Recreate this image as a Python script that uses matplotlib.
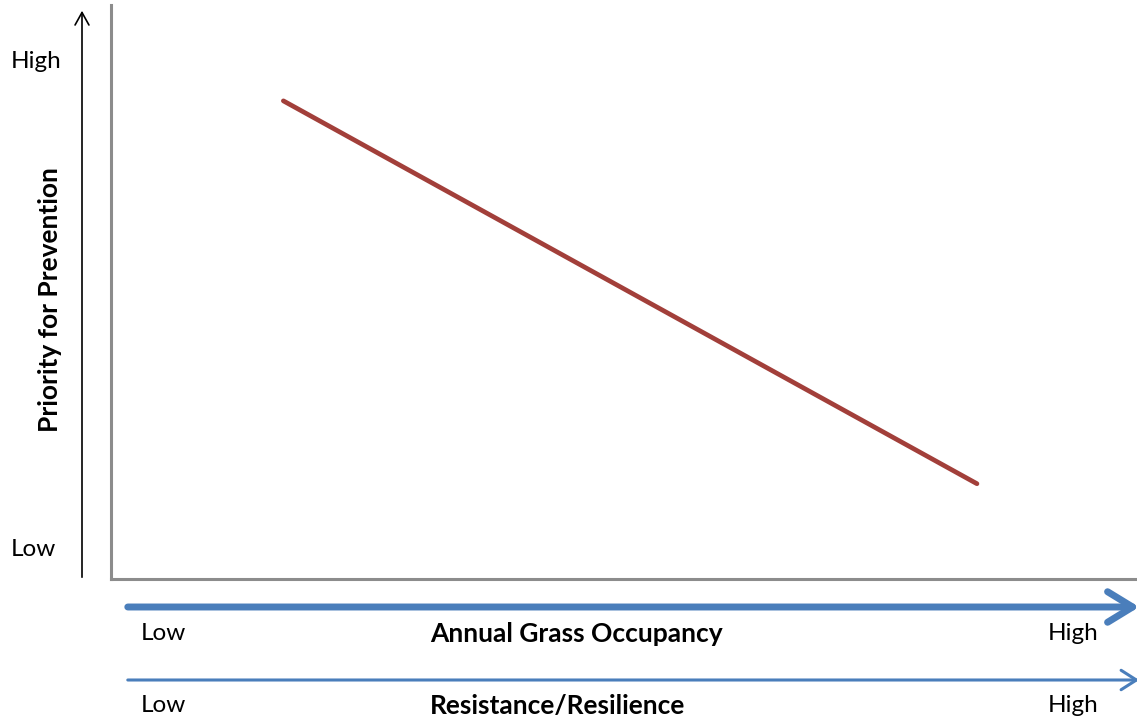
import matplotlib.pyplot as plt
from matplotlib.patches import FancyArrowPatch

plt.rcParams["font.family"] = ["Lato", "DejaVu Sans"]

# conceptual trend line: low occupancy -> high priority
line_x = [16.8, 84.4]
line_y = [83.3, 16.6]

y_ticks_text = ["Low", "High"]
x_rows = ["Annual Grass Occupancy", "Resistance/Resilience"]

fig = plt.figure(figsize=(11.37, 7.2), dpi=100)
ax = fig.add_axes([111 / 1137, 141 / 720, 1026 / 1137, 574 / 720])
ax.plot(line_x, line_y, color="#A23F3A", lw=3.4, solid_capstyle="round")
ax.set_xlim(0, 100)
ax.set_ylim(0, 100)
ax.set_xticks([])
ax.set_yticks([])
for side in ["top", "right"]:
    ax.spines[side].set_visible(False)
for side in ["left", "bottom"]:
    ax.spines[side].set_color("#8C8C8C")
    ax.spines[side].set_linewidth(2.2)


# figure-level annotations in pixel fractions
def fx(px):
    return px / 1137


def fy(py):
    return 1 - py / 720


# black vertical arrow
fig.patches.append(FancyArrowPatch((fx(82), fy(580)), (fx(82), fy(8)),
                                   transform=fig.transFigure, arrowstyle="->,head_width=5,head_length=9",
                                   color="black", lw=1.2, mutation_scale=1))
fig.text(fx(36), fy(62), y_ticks_text[1], ha="center", va="center", fontsize=17.5)
fig.text(fx(33), fy(549), y_ticks_text[0], ha="center", va="center", fontsize=17.5)
fig.text(fx(50), fy(300), "Priority for Prevention", rotation=90, ha="center", va="center",
         fontsize=19, fontweight="bold")

# blue horizontal arrows
fig.patches.append(FancyArrowPatch((fx(125), fy(607)), (fx(1142), fy(607)),
                                   transform=fig.transFigure, arrowstyle="->,head_width=11,head_length=18",
                                   color="#4A7EBB", lw=5, mutation_scale=1))
fig.patches.append(FancyArrowPatch((fx(125), fy(680)), (fx(1142), fy(680)),
                                   transform=fig.transFigure, arrowstyle="->,head_width=7,head_length=11",
                                   color="#4A7EBB", lw=2.2, mutation_scale=1))

for row_y, label in zip([634, 706], x_rows):
    fig.text(fx(163), fy(row_y), y_ticks_text[0], ha="center", va="center", fontsize=17.5)
    fig.text(fx(430), fy(row_y), label, ha="left", va="center", fontsize=19, fontweight="bold")
    fig.text(fx(1073), fy(row_y), y_ticks_text[1], ha="center", va="center", fontsize=17.5)

fig.savefig("out.png", dpi=100)
